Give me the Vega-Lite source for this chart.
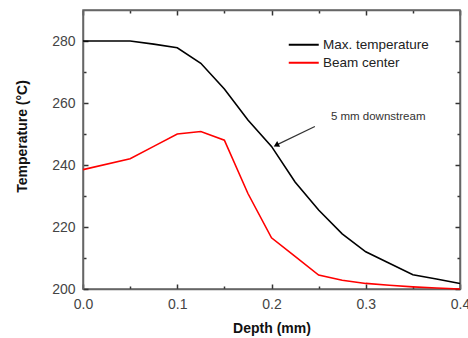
{
  "$schema": "https://vega.github.io/schema/vega-lite/v6.json",
  "width": 377,
  "height": 279,
  "autosize": {"type": "none"},
  "padding": {"left": 83, "top": 10, "right": 8, "bottom": 49},
  "background": "white",
  "config": {"view": {"stroke": "#666", "strokeWidth": 1.5}, "font": "Liberation Sans"},
  "datasets": {
    "curves": [
      {"depth": 0, "temp": 280, "series": "Max. temperature"},
      {"depth": 0.05, "temp": 280, "series": "Max. temperature"},
      {"depth": 0.075, "temp": 279, "series": "Max. temperature"},
      {"depth": 0.1, "temp": 277.8, "series": "Max. temperature"},
      {"depth": 0.125, "temp": 272.8, "series": "Max. temperature"},
      {"depth": 0.15, "temp": 264.5, "series": "Max. temperature"},
      {"depth": 0.175, "temp": 254.5, "series": "Max. temperature"},
      {"depth": 0.2, "temp": 246, "series": "Max. temperature"},
      {"depth": 0.225, "temp": 234.5, "series": "Max. temperature"},
      {"depth": 0.25, "temp": 225.5, "series": "Max. temperature"},
      {"depth": 0.275, "temp": 217.8, "series": "Max. temperature"},
      {"depth": 0.3, "temp": 212, "series": "Max. temperature"},
      {"depth": 0.325, "temp": 208.3, "series": "Max. temperature"},
      {"depth": 0.35, "temp": 204.6, "series": "Max. temperature"},
      {"depth": 0.375, "temp": 203.2, "series": "Max. temperature"},
      {"depth": 0.4, "temp": 201.8, "series": "Max. temperature"},
      {"depth": 0, "temp": 238.5, "series": "Beam center"},
      {"depth": 0.05, "temp": 242, "series": "Beam center"},
      {"depth": 0.075, "temp": 246, "series": "Beam center"},
      {"depth": 0.1, "temp": 250, "series": "Beam center"},
      {"depth": 0.125, "temp": 250.8, "series": "Beam center"},
      {"depth": 0.15, "temp": 248, "series": "Beam center"},
      {"depth": 0.175, "temp": 230.8, "series": "Beam center"},
      {"depth": 0.2, "temp": 216.5, "series": "Beam center"},
      {"depth": 0.225, "temp": 210.5, "series": "Beam center"},
      {"depth": 0.25, "temp": 204.5, "series": "Beam center"},
      {"depth": 0.275, "temp": 202.8, "series": "Beam center"},
      {"depth": 0.3, "temp": 201.8, "series": "Beam center"},
      {"depth": 0.325, "temp": 201.2, "series": "Beam center"},
      {"depth": 0.35, "temp": 200.7, "series": "Beam center"},
      {"depth": 0.375, "temp": 200.3, "series": "Beam center"},
      {"depth": 0.4, "temp": 200, "series": "Beam center"}
    ],
    "note": [{"depth": 0.263, "temp": 255.6, "text": "5 mm downstream"}],
    "arrow": [{"depth": 0.246, "temp": 252.4, "depth2": 0.205, "temp2": 246.4}]
  },
  "layer": [
    {
      "data": {"name": "curves"},
      "mark": {"type": "line", "strokeWidth": 1.6},
      "encoding": {
        "x": {
          "field": "depth", "type": "quantitative",
          "scale": {"domain": [0, 0.4], "nice": false, "zero": false},
          "axis": {
            "orient": "bottom",
            "values": [0, 0.05, 0.1, 0.15, 0.2, 0.25, 0.3, 0.35, 0.4],
            "labelExpr": "round(datum.value*20) % 2 == 1 ? '' : format(datum.value, '.1f')",
            "tickSize": {"condition": {"test": "round(datum.value*20) % 2 == 1", "value": -3}, "value": -5},
            "tickColor": "#333", "tickWidth": 1.5,
            "domainColor": "#666", "domainWidth": 1.5,
            "labelFont": "Liberation Sans", "labelFontSize": 14, "labelColor": "#444",
            "labelPadding": 13, "labelFlush": false, "labelOverlap": false,
            "grid": false,
            "title": "Depth (mm)", "titleFont": "Liberation Sans", "titleFontSize": 14, "titleFontWeight": "bold", "titleColor": "#111",
            "titleX": 188.5, "titleY": 39, "titleAlign": "center", "titleBaseline": "middle"
          }
        },
        "y": {
          "field": "temp", "type": "quantitative",
          "scale": {"domain": [200, 290], "nice": false, "zero": false},
          "axis": {
            "orient": "left",
            "values": [200, 210, 220, 230, 240, 250, 260, 270, 280],
            "labelExpr": "datum.value % 20 == 10 ? '' : datum.label",
            "tickSize": {"condition": {"test": "datum.value % 20 == 10", "value": -3}, "value": -5},
            "tickColor": "#333", "tickWidth": 1.5,
            "domainColor": "#666", "domainWidth": 1.5,
            "labelFont": "Liberation Sans", "labelFontSize": 14, "labelColor": "#444",
            "labelPadding": 13, "labelFlush": false, "labelOverlap": false,
            "grid": false,
            "title": "Temperature (°C)", "titleFont": "Liberation Sans", "titleFontSize": 14, "titleFontWeight": "bold", "titleColor": "#111",
            "titleX": -61, "titleY": 126, "titleAngle": 270, "titleAlign": "center", "titleBaseline": "middle"
          }
        },
        "color": {
          "field": "series", "type": "nominal",
          "scale": {"domain": ["Max. temperature", "Beam center"], "range": ["#000000", "#ff0000"]},
          "legend": {
            "orient": "none", "legendX": 214, "legendY": 28,
            "title": null, "symbolType": "M-3,0H3", "symbolSize": 100, "symbolStrokeWidth": 2,
            "labelFont": "Liberation Sans", "labelFontSize": 13.5, "labelColor": "#222",
            "labelOffset": 12.5, "rowPadding": 3, "padding": 0
          }
        }
      }
    },
    {
      "data": {"name": "curves"},
      "mark": {"type": "line", "opacity": 0},
      "encoding": {
        "x": {
          "field": "depth", "type": "quantitative",
          "axis": {
            "orient": "top",
            "values": [0, 0.05, 0.1, 0.15, 0.2, 0.25, 0.3, 0.35, 0.4],
            "labels": false, "title": null, "grid": false,
            "tickSize": {"condition": {"test": "round(datum.value*20) % 2 == 1", "value": -3}, "value": -5},
            "tickColor": "#333", "tickWidth": 1.5,
            "domainColor": "#666", "domainWidth": 1.5
          }
        },
        "y": {
          "field": "temp", "type": "quantitative",
          "axis": {
            "orient": "right",
            "values": [200, 210, 220, 230, 240, 250, 260, 270, 280],
            "labels": false, "title": null, "grid": false,
            "tickSize": {"condition": {"test": "datum.value % 20 == 10", "value": -3}, "value": -5},
            "tickColor": "#333", "tickWidth": 1.5,
            "domainColor": "#666", "domainWidth": 1.5
          }
        },
        "detail": {"field": "series", "type": "nominal"}
      }
    },
    {
      "data": {"name": "note"},
      "mark": {"type": "text", "align": "left", "baseline": "middle", "font": "Liberation Sans", "fontSize": 11.5, "color": "#333"},
      "encoding": {
        "x": {"field": "depth", "type": "quantitative", "axis": null},
        "y": {"field": "temp", "type": "quantitative", "axis": null},
        "text": {"field": "text"}
      }
    },
    {
      "data": {"name": "arrow"},
      "mark": {"type": "rule", "color": "#333", "strokeWidth": 1.2},
      "encoding": {
        "x": {"field": "depth", "type": "quantitative", "axis": null},
        "y": {"field": "temp", "type": "quantitative", "axis": null},
        "x2": {"field": "depth2"},
        "y2": {"field": "temp2"}
      }
    },
    {
      "data": {"name": "arrow"},
      "mark": {"type": "point", "shape": "triangle-up", "filled": true, "size": 40, "angle": 243, "color": "#000", "opacity": 1},
      "encoding": {
        "x": {"field": "depth2", "type": "quantitative", "axis": null},
        "y": {"field": "temp2", "type": "quantitative", "axis": null}
      }
    }
  ],
  "resolve": {"axis": {"x": "independent", "y": "independent"}}
}
